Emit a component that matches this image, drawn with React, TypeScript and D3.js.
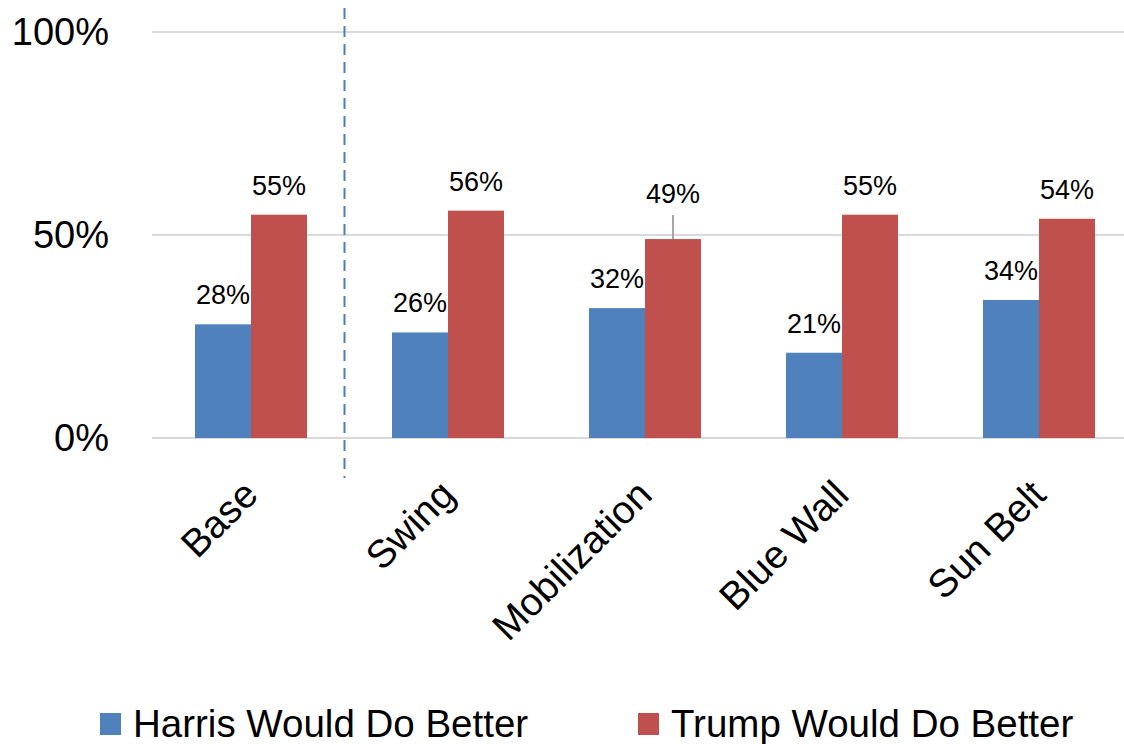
import React from "react";
import * as d3 from "d3";

const categories = ["Base", "Swing", "Mobilization", "Blue Wall", "Sun Belt"];
const harris = [28, 26, 32, 21, 34];
const trump = [55, 56, 49, 55, 54];
const yTicks = [0, 50, 100];
const seriesNames = ["Harris Would Do Better", "Trump Would Do Better"];
const colors = ["#4F81BD", "#C0504D"];

const W = 1124;
const H = 744;
const FONT = "'Liberation Sans', Arial, sans-serif";

export default function App() {
  const x = d3.scaleBand<string>().domain(categories).range([152.5, 1137.5]).paddingInner(0).paddingOuter(0);
  const y = d3.scaleLinear().domain([0, 100]).range([438, 32]);
  const bw = 56;
  const series = [harris, trump];

  const sepX = (x("Base")! + x.bandwidth() + x("Swing")!) / 2 - 5;

  return (
    <div style={{ position: "absolute", left: 0, top: 0 }}>
      <svg width={W} height={H} style={{ display: "block", background: "#fff" }} fontFamily={FONT}>
        {yTicks.map((t) => (
          <g key={t}>
            <line x1={152} x2={W} y1={y(t)} y2={y(t)} stroke="#D9D9D9" strokeWidth={2} />
            <text x={109} y={y(t) + 13} textAnchor="end" fontSize={38} fill="#000">
              {t}%
            </text>
          </g>
        ))}
        <line x1={sepX} x2={sepX} y1={8} y2={478} stroke="#4A7EBB" strokeWidth={2} strokeDasharray="11,7" />
        {categories.map((c, i) => {
          const cx = x(c)! + x.bandwidth() / 2;
          return (
            <g key={c}>
              {series.map((s, si) => {
                const bx = cx - bw + si * bw;
                const v = s[i];
                const top = y(v);
                const lift = c === "Mobilization" && si === 1 ? 36 : 20;
                return (
                  <g key={si}>
                    <rect x={bx} y={top} width={bw} height={y(0) - top} fill={colors[si]} />
                    {lift > 20 && (
                      <line x1={bx + bw / 2} x2={bx + bw / 2} y1={top - 24} y2={top} stroke="#A6A6A6" strokeWidth={2} />
                    )}
                    <text x={bx + bw / 2} y={top - lift} textAnchor="middle" fontSize={27} fill="#000">
                      {v}%
                    </text>
                  </g>
                );
              })}
              <text
                transform={`translate(${cx + 9},${497}) rotate(-45)`}
                textAnchor="end"
                fontSize={39}
                fill="#000"
              >
                {c}
              </text>
            </g>
          );
        })}
        {seriesNames.map((n, i) => {
          const lx = i === 0 ? 100 : 638;
          return (
            <g key={n}>
              <rect x={lx} y={713} width={21} height={22} fill={colors[i]} />
              <text x={lx + 33} y={737} fontSize={38.5} fill="#000">
                {n}
              </text>
            </g>
          );
        })}
      </svg>
    </div>
  );
}
